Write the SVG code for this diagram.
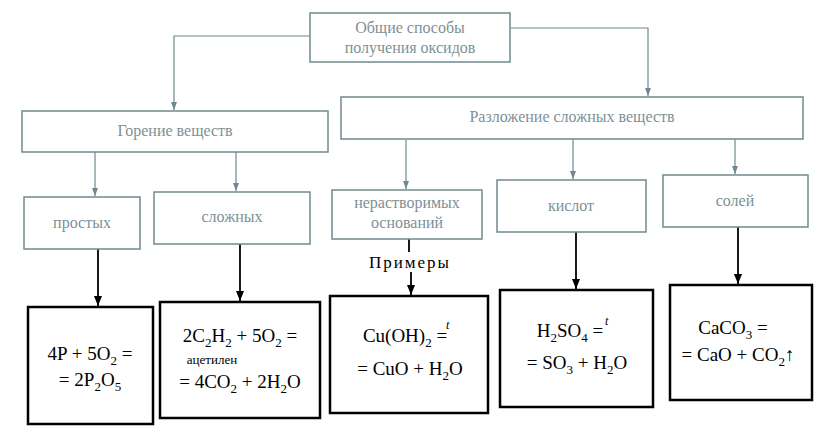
<svg xmlns="http://www.w3.org/2000/svg" width="818" height="438" viewBox="0 0 818 438" font-family="'Liberation Serif', 'DejaVu Serif', serif">
<defs>
<marker id="ag" markerWidth="8" markerHeight="8" refX="8" refY="4" orient="auto" markerUnits="userSpaceOnUse" viewBox="0 0 8 8"><path d="M0,1 L8,4 L0,7 Z" fill="#6f8a8e"/></marker>
<marker id="ab" markerWidth="10" markerHeight="10" refX="10" refY="5" orient="auto" markerUnits="userSpaceOnUse" viewBox="0 0 10 10"><path d="M0,1 L10,5 L0,9 Z" fill="#000"/></marker>
<style>
text{font-family:'Liberation Serif','DejaVu Serif',serif}
.g{fill:#fff;stroke:#6f8a8e;stroke-width:1.5}
.b{fill:#fff;stroke:#000;stroke-width:2.5}
.gt{font-size:16px;fill:#7d9196;text-anchor:middle}
.bt{font-size:19px;fill:#000;text-anchor:middle}
.gl{stroke:#6f8a8e;stroke-width:1.2;fill:none}
.bl{stroke:#000;stroke-width:1.8;fill:none}
</style>
</defs>
<g id="connectors">
<path class="gl" d="M310,36 H174 V110" marker-end="url(#ag)"/>
<path class="gl" d="M510,28 H648 V96" marker-end="url(#ag)"/>
<path class="gl" d="M95,152 V196" marker-end="url(#ag)"/>
<path class="gl" d="M236,150 V191" marker-end="url(#ag)"/>
<path class="gl" d="M406,140 V189" marker-end="url(#ag)"/>
<path class="gl" d="M573,136 V179" marker-end="url(#ag)"/>
<path class="gl" d="M735,132 V174" marker-end="url(#ag)"/>
<path class="bl" d="M98,249 V306" marker-end="url(#ab)"/>
<path class="bl" d="M240,244 V301" marker-end="url(#ab)"/>
<path class="bl" d="M409,239 V252"/>
<path class="bl" d="M411,272 V295" marker-end="url(#ab)"/>
<path class="bl" d="M576,232 V289" marker-end="url(#ab)"/>
<path class="bl" d="M738,227 V284" marker-end="url(#ab)"/>
</g>
<g id="top"><rect class="g" x="310" y="13" width="200" height="49"/><text class="gt" x="410" y="33">Общие способы</text><text class="gt" x="410" y="53">получения оксидов</text></g>
<g id="gorenie"><rect class="g" x="22" y="111" width="306" height="41"/><text class="gt" x="175" y="136">Горение веществ</text></g>
<g id="razl"><rect class="g" x="341" y="97" width="462" height="42"/><text class="gt" x="572" y="122">Разложение сложных веществ</text></g>
<g id="prostyh"><rect class="g" x="24" y="197" width="116" height="52"/><text class="gt" x="82" y="228">простых</text></g>
<g id="slozhnyh"><rect class="g" x="154" y="192" width="156" height="52"/><text class="gt" x="232" y="222">сложных</text></g>
<g id="nerastv"><rect class="g" x="332" y="190" width="150" height="49"/><text class="gt" x="407" y="208">нерастворимых</text><text class="gt" x="407" y="228">оснований</text></g>
<g id="kislot"><rect class="g" x="497" y="180" width="149" height="52"/><text class="gt" x="571" y="211">кислот</text></g>
<g id="solei"><rect class="g" x="663" y="175" width="145" height="52"/><text class="gt" x="735" y="206">солей</text></g>
<text x="410" y="268" font-size="17" letter-spacing="2" text-anchor="middle">Примеры</text>
<g id="ex1"><rect class="b" x="28" y="307" width="125" height="117"/>
<text class="bt" x="90" y="360">4P + 5O<tspan font-size="13" dy="5">2</tspan><tspan dy="-5"> =</tspan></text>
<text class="bt" x="90" y="386">= 2P<tspan font-size="13" dy="5">2</tspan><tspan dy="-5">O</tspan><tspan font-size="13" dy="5">5</tspan></text></g>
<g id="ex2"><rect class="b" x="160" y="302" width="160" height="116"/>
<text class="bt" x="240" y="342">2C<tspan font-size="13" dy="5">2</tspan><tspan dy="-5">H</tspan><tspan font-size="13" dy="5">2</tspan><tspan dy="-5"> + 5O</tspan><tspan font-size="13" dy="5">2</tspan><tspan dy="-5"> =</tspan></text>
<text x="212" y="364" font-size="13" text-anchor="middle">ацетилен</text>
<text class="bt" x="240" y="388">= 4CO<tspan font-size="13" dy="5">2</tspan><tspan dy="-5"> + 2H</tspan><tspan font-size="13" dy="5">2</tspan><tspan dy="-5">O</tspan></text></g>
<g id="ex3"><rect class="b" x="330" y="296" width="158" height="117"/>
<text class="bt" x="405" y="342">Cu(OH)<tspan font-size="13" dy="5">2</tspan><tspan dy="-5"> =</tspan></text>
<text x="446" y="329" font-size="12" font-style="italic">t</text>
<text class="bt" x="410" y="375">= CuO + H<tspan font-size="13" dy="5">2</tspan><tspan dy="-5">O</tspan></text></g>
<g id="ex4"><rect class="b" x="500" y="290" width="153" height="117"/>
<text class="bt" x="570" y="337">H<tspan font-size="13" dy="5">2</tspan><tspan dy="-5">SO</tspan><tspan font-size="13" dy="5">4</tspan><tspan dy="-5"> =</tspan></text>
<text x="605" y="325" font-size="12" font-style="italic">t</text>
<text class="bt" x="577" y="369">= SO<tspan font-size="13" dy="5">3</tspan><tspan dy="-5"> + H</tspan><tspan font-size="13" dy="5">2</tspan><tspan dy="-5">O</tspan></text></g>
<g id="ex5"><rect class="b" x="670" y="285" width="142" height="115"/>
<text class="bt" x="733" y="334">CaCO<tspan font-size="13" dy="5">3</tspan><tspan dy="-5"> =</tspan></text>
<text class="bt" x="738" y="361">= CaO + CO<tspan font-size="13" dy="5">2</tspan><tspan dy="-5">↑</tspan></text></g>
</svg>
